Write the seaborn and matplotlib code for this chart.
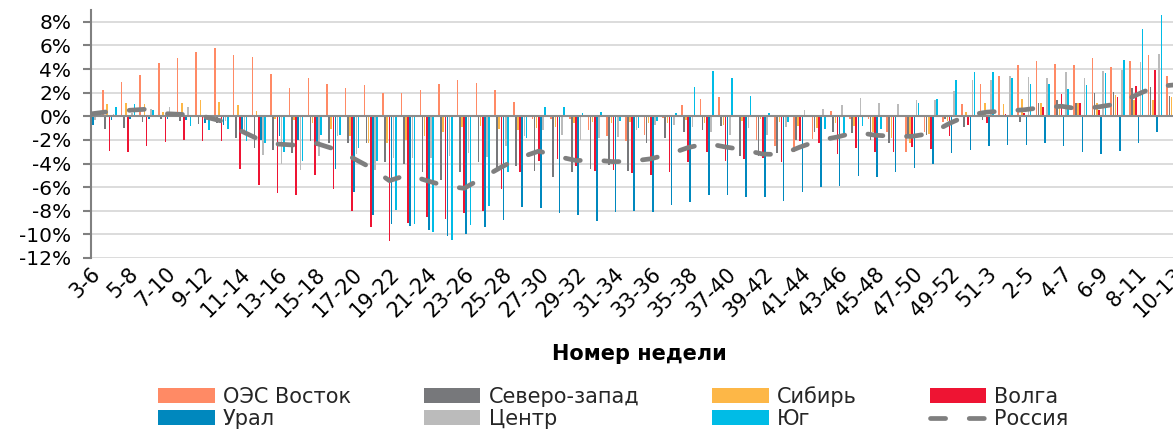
import numpy as np
import pandas as pd
import matplotlib
matplotlib.use("Agg")
import matplotlib.pyplot as plt
import matplotlib.ticker as mticker
from matplotlib.patches import Patch
from matplotlib.lines import Line2D
import seaborn as sns

# ------------------------------------------------------------
# DATA (weekly change, %)
# ------------------------------------------------------------

weeks = ["3-6", "4-7", "5-8", "6-9", "7-10", "8-11", "9-12", "10-13", "11-14", "12-15",
         "13-16", "14-17", "15-18", "16-19", "17-20", "18-21", "19-22", "20-23", "21-24", "22-25",
         "23-26", "24-27", "25-28", "26-29", "27-30", "28-31", "29-32", "30-33", "31-34", "32-35",
         "33-36", "34-37", "35-38", "36-39", "37-40", "38-41", "39-42", "40-43", "41-44", "42-45",
         "43-46", "44-47", "45-48", "46-49", "47-50", "48-51", "49-52", "50-2", "51-3", "1-4",
         "2-5", "3-6", "4-7", "5-8", "6-9", "7-10", "8-11", "9-12", "10-13"]

vostok = [1.8, 2.2, 2.9, 3.5, 4.5, 4.9, 5.4, 5.75, 5.15, 5.05,
          3.6, 2.4, 3.2, 2.7, 2.4, 2.65, 2.0, 1.95, 2.2, 2.7,
          3.05, 2.85, 2.2, 1.25, -0.2, -0.2, -0.2, -1.2, -1.65, -2.1,
          -1.55, -0.15, 0.95, 1.45, 1.65, 0.1, -2.0, -2.55, -3.0, -1.95,
          0.45, -0.2, -0.2, -1.3, -3.0, -1.3, -0.45, 1.0, 2.7, 3.45,
          4.3, 4.7, 4.45, 4.3, 4.95, 4.2, 4.7, 5.15, 3.45]

north_west = [-0.8, -1.1, -1.0, -0.5, -0.2, -0.4, -0.65, -0.6, -1.85, -2.7,
              -2.85, -3.1, -2.1, -2.3, -2.3, -2.3, -3.85, -4.0, -4.75, -5.4,
              -4.75, -3.85, -4.5, -4.2, -4.6, -5.1, -4.7, -4.5, -4.1, -4.6,
              -2.3, -1.85, -1.3, -1.2, -0.8, -3.35, -3.4, -3.1, -2.0, -1.3,
              -1.3, -1.4, -2.05, -2.3, -1.5, -1.55, -0.2, -0.9, -0.3, 0.1,
              -0.5, 1.15, 1.35, 1.1, 1.95, 2.05, 2.4, 2.5, 1.75]

siberia = [0.8, 1.05, 1.1, 1.0, 0.35, 1.1, 1.35, 1.2, 0.95, 0.48,
           -0.2, -0.3, -0.55, -1.1, -1.7, -2.3, -2.3, -2.0, -1.7, -1.3,
           -0.9, -0.8, -1.1, -1.15, -1.0, -0.95, -0.6, -0.5, -0.55, -0.5,
           -0.55, -0.6, -0.3, -0.6, -0.7, -0.4, -0.2, -0.5, -0.85, -1.0,
           -0.6, -0.85, -1.3, -1.85, -2.25, -1.5, -0.4, 0.35, 1.1, 1.05,
           1.45, 1.1, 0.9, 1.1, 1.1, 1.8, 1.4, 1.4, 1.65]

volga = [-2.5, -2.9, -3.0, -2.55, -2.15, -2.0, -2.1, -2.1, -4.5, -5.85,
         -6.5, -6.65, -5.0, -6.2, -8.0, -9.35, -10.55, -9.0, -8.5, -8.7,
         -8.2, -8.0, -6.2, -4.7, -3.75, -3.65, -4.25, -4.6, -4.55, -4.8,
         -4.95, -4.75, -3.9, -3.0, -3.75, -3.65, -3.55, -3.85, -2.1, -2.3,
         -3.2, -2.7, -3.05, -3.0, -2.6, -2.8, -1.7, -0.7, -0.6, 0.2,
         0.3, 0.8, 1.85, 1.1, 0.55, 1.65, 2.55, 3.9, 2.0]

ural = [-0.7, -0.3, -0.2, -0.2, -0.2, -0.3, -0.6, -0.7, -1.4, -2.0,
        -1.7, -2.0, -2.5, -4.5, -6.45, -8.4, -9.1, -9.3, -9.6, -10.1,
        -9.95, -9.35, -8.75, -7.65, -7.8, -8.2, -8.4, -8.85, -8.1, -8.0,
        -8.1, -7.5, -7.3, -6.65, -6.65, -6.8, -6.8, -7.2, -6.4, -6.0,
        -5.9, -5.05, -5.1, -4.75, -4.35, -4.0, -3.1, -2.85, -2.5, -2.4,
        -2.4, -2.25, -2.55, -3.05, -3.2, -2.9, -2.3, -1.35, -1.3]

center = [-0.3, 0.2, 0.3, 0.6, 0.8, 0.8, -0.3, -0.4, -1.55, -3.3,
          -4.0, -4.55, -3.4, -1.65, -3.2, -4.55, -3.55, -3.5, -3.5, -3.35,
          -3.1, -3.45, -2.5, -1.7, -1.2, -1.55, -2.0, -1.85, -1.75, -1.15,
          -0.7, -0.7, -0.9, -1.35, -1.55, -1.0, -1.55, -0.9, 0.5, 0.65,
          0.95, 1.55, 1.15, 1.0, 1.4, 1.4, 2.1, 3.1, 3.05, 3.45,
          3.35, 3.2, 3.75, 3.2, 3.8, 3.9, 4.6, 5.25, 3.0]

south = [0.3, 0.77, 1.0, 0.55, 0.2, -0.85, -1.2, -1.1, -2.1, -2.3,
         -3.0, -3.75, -1.55, -1.55, -2.65, -3.75, -7.9, -9.1, -9.8, -10.5,
         -9.2, -7.6, -4.75, -1.8, 0.77, 0.82, 0.28, 0.35, -0.4, -1.0,
         -0.4, 0.28, 2.5, 3.85, 3.2, 1.7, 0.28, -0.5, -0.1, -1.1,
         -1.55, -0.8, -1.1, 0.1, 1.15, 1.5, 3.05, 3.75, 3.75, 3.25,
         2.7, 2.7, 2.35, 2.65, 3.65, 4.8, 7.4, 8.55, 4.0]

russia = [0.2, 0.4, 0.5, 0.6, 0.22, 0.15, 0.0, -0.4, -1.2, -1.95,
          -2.35, -2.45, -2.25, -2.75, -3.5, -4.35, -5.45, -4.95, -5.45, -5.9,
          -6.1, -5.2, -4.3, -3.5, -2.95, -3.4, -3.75, -3.7, -3.85, -3.8,
          -3.6, -3.2, -2.65, -2.3, -2.6, -2.85, -3.2, -3.25, -2.6, -2.05,
          -1.75, -1.35, -1.6, -1.7, -1.7, -1.45, -0.6, 0.1, 0.35, 0.45,
          0.55, 0.75, 0.85, 0.6, 0.8, 1.05, 1.8, 2.5, 2.65]

regions = ["ОЭС Восток", "Северо-запад", "Сибирь", "Волга", "Урал", "Центр", "Юг"]
colors = ["#FF8A65", "#77787B", "#FDB747", "#EE1433", "#0088BE", "#BBBBBB", "#00BCE6"]
russia_color = "#7F7F7F"

# ------------------------------------------------------------
# LONG FORMAT
# ------------------------------------------------------------

series = [vostok, north_west, siberia, volga, ural, center, south]
pos = np.arange(len(weeks))
df = pd.DataFrame({
    "pos": np.tile(pos, len(regions)),
    "region": np.repeat(regions, len(weeks)),
    "value": np.concatenate(series),
})

# ------------------------------------------------------------
# PLOT
# ------------------------------------------------------------

sns.set_theme(style="white")
plt.rcParams["font.family"] = ["DejaVu Sans"]

fig = plt.figure(figsize=(11.73, 4.32), dpi=100)
ax = fig.add_axes([0.0773, 0.4028, 0.9232, 0.5741])

ax.yaxis.grid(True, color="#D9D9D9", linewidth=1.3)
ax.set_axisbelow(True)

sns.barplot(data=df, x="pos", y="value", hue="region", hue_order=regions,
            palette=colors, native_scale=True, width=0.8, gap=0.25,
            errorbar=None, saturation=1, linewidth=0, legend=False, ax=ax)

ax.axhline(0, color="#8C8C8C", linewidth=1.5, zorder=2.5)

sns.lineplot(x=pos, y=russia, color=russia_color, linewidth=3.4,
             linestyle=(0, (3.2, 5.0)), dash_capstyle="round",
             legend=False, ax=ax, zorder=3)

ax.set_xlim(0, len(weeks) - 1)
ax.set_ylim(-12, 9)
ax.set_yticks(np.arange(-12, 9, 2))
ax.yaxis.set_major_formatter(mticker.FuncFormatter(lambda v, _: f"{v:.0f}%"))

ax.set_xticks(pos[::2])
ax.set_xticklabels(weeks[::2], rotation=45, ha="right", rotation_mode="anchor")

ax.tick_params(axis="y", left=True, length=6, width=1.5, color="#808080",
               pad=8, labelsize=14.5, labelcolor="black")
ax.tick_params(axis="x", length=0, pad=4, labelsize=15, labelcolor="black")

for side in ["top", "right", "bottom"]:
    ax.spines[side].set_visible(False)
ax.spines["left"].set_color("#808080")
ax.spines["left"].set_linewidth(1.5)

ax.set_xlabel("Номер недели", fontsize=15, fontweight="bold", color="black")
ax.xaxis.set_label_coords(0.507, -0.345)
ax.set_ylabel("")

# legend, filled row by row like the original
handles = [Patch(facecolor=c, edgecolor="none") for c in colors]
handles.append(Line2D([], [], color=russia_color, linewidth=3.4,
                      linestyle=(0, (3.2, 5.0)), dash_capstyle="round"))
labels = regions + ["Россия"]
order = [0, 4, 1, 5, 2, 6, 3, 7]
fig.legend([handles[i] for i in order], [labels[i] for i in order],
           loc="center", bbox_to_anchor=(0.523, 0.057), ncol=4, frameon=False,
           fontsize=15, handlelength=2.7, handleheight=0.7, handletextpad=0.4,
           columnspacing=3.5, labelspacing=0.1, borderaxespad=0)

fig.savefig("out.png", dpi=100)
plt.close(fig)
